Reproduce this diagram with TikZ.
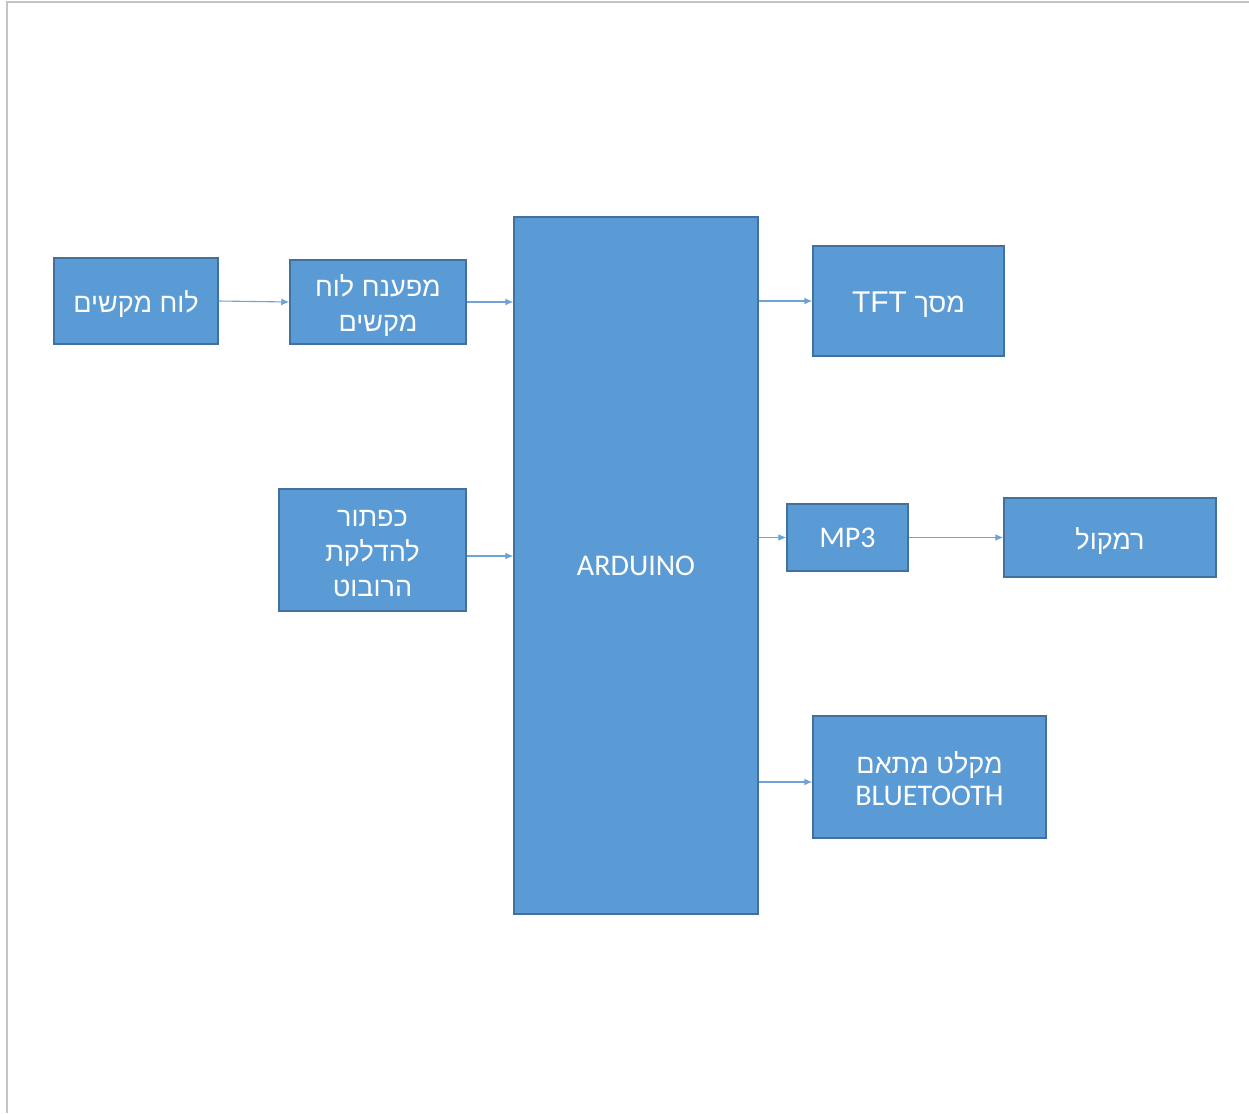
\documentclass[tikz,border=0pt]{standalone}
\usepackage{fontspec}
\setmainfont{Carlito}
\newfontfamily\hebfont[Script=Hebrew]{Liberation Sans}
\TeXXeTstate=1
\usetikzlibrary{arrows.meta}
\definecolor{boxfill}{HTML}{5B9BD5}
\definecolor{boxline}{HTML}{41719C}
\definecolor{arrowc}{HTML}{6FA3D8}
\definecolor{frame}{HTML}{C4C4C4}
\tikzset{
  blk/.style={draw=boxline, fill=boxfill, line width=1.5pt, inner sep=0pt,
    text=white, align=center, font=\fontsize{27}{35}\selectfont},
  conn/.style={draw=arrowc, line width=1.1pt, -{Latex[length=8pt,width=7pt]}}
}
\newcommand{\heb}[1]{\raisebox{-3.5pt}[\height][\depth]{\hebfont\beginR #1\endR}}
\newcommand{\lat}[1]{{\fontsize{30}{35}\selectfont #1}}
\begin{document}
\begin{tikzpicture}[x=1pt,y=-1pt]
\useasboundingbox (0,0) rectangle (1249,1113);
\draw[frame, line width=2pt] (6.5,1113) -- (6.5,2.5) -- (1249,2.5);

\node[blk, minimum width=164pt, minimum height=86pt] (kb) at (136,301) {\heb{לוח מקשים}};
\node[blk, minimum width=176pt, minimum height=84pt] (dec) at (378,302) {\heb{מפענח לוח}\\\heb{מקשים}};
\node[blk, minimum width=244pt, minimum height=697pt] (ard) at (636,565.5) {\lat{ARDUINO}};
\node[blk, minimum width=187pt, minimum height=122pt] (btn) at (372.5,550) {\heb{כפתור}\\\heb{להדלקת}\\\heb{הרובוט}};
\node[blk, minimum width=191pt, minimum height=110pt] (tft) at (908.5,301) {\raisebox{-3.5pt}[\height][\depth]{\hebfont\beginR מסך \beginL\lat{TFT}\endL\endR}};
\node[blk, minimum width=121pt, minimum height=67pt] (mp3) at (847.5,537.5) {\lat{MP3}};
\node[blk, minimum width=212pt, minimum height=79pt] (spk) at (1110,537.5) {\heb{רמקול}};
\node[blk, minimum width=233pt, minimum height=122pt] (bt) at (929.5,777) {\heb{מקלט מתאם}\\\lat{BLUETOOTH}};

\draw[conn] (kb.east) -- (dec.west);
\draw[conn] (dec.east) -- (dec.east -| ard.west);
\draw[conn] ([yshift=-6pt]btn.east) -- ([yshift=-6pt]btn.east -| ard.west);
\draw[conn] (tft.west -| ard.east) -- (tft.west);
\draw[conn] (mp3.west -| ard.east) -- (mp3.west);
\draw[conn] (mp3.east) -- (spk.west);
\draw[conn] ([yshift=-5pt]bt.west -| ard.east) -- ([yshift=-5pt]bt.west);
\end{tikzpicture}
\end{document}
